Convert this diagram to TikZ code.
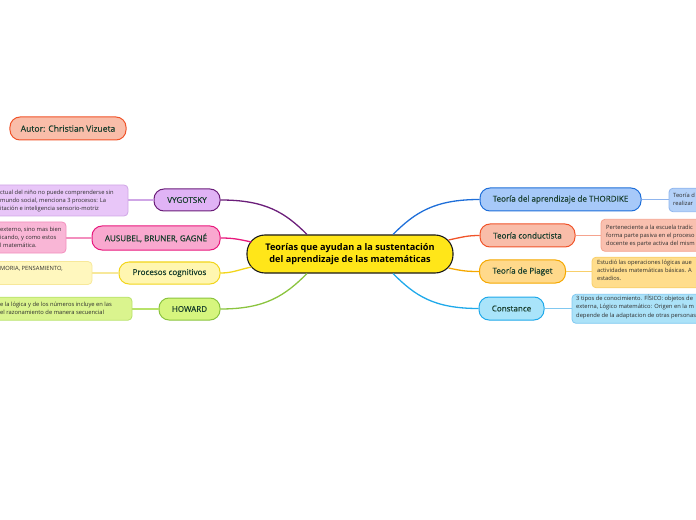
\documentclass[tikz,border=0pt]{standalone}
\usepackage{fontspec}
\setmainfont{Open Sans}
\newfontface\medfont{Open Sans}[FakeBold=0.4]
\usetikzlibrary{calc}
\definecolor{ntxt}{HTML}{173D2C}
\definecolor{dtx}{HTML}{2E2E2E}
\definecolor{cenF}{HTML}{FFE619}
\definecolor{cenD}{HTML}{1A1A1A}
\definecolor{purL}{HTML}{6B1E7A}\definecolor{purF}{HTML}{E0B3F5}\definecolor{purDF}{HTML}{E8C6F8}\definecolor{purDD}{HTML}{CFA6E6}
\definecolor{pinL}{HTML}{E8197D}\definecolor{pinF}{HTML}{F9A8CF}\definecolor{pinDF}{HTML}{F9B6D6}\definecolor{pinDD}{HTML}{F38FBE}
\definecolor{yelL}{HTML}{F2D51C}\definecolor{yelF}{HTML}{FFF6B0}\definecolor{yelDF}{HTML}{FFF7BE}\definecolor{yelDD}{HTML}{F7E89A}
\definecolor{grnL}{HTML}{8BC43F}\definecolor{grnF}{HTML}{D6F57E}\definecolor{grnDF}{HTML}{DAF48E}\definecolor{grnDD}{HTML}{B8E26A}
\definecolor{bluL}{HTML}{1F6FD9}\definecolor{bluF}{HTML}{A7C9F9}\definecolor{bluDF}{HTML}{B4D1F8}\definecolor{bluDD}{HTML}{8FB5EE}
\definecolor{redL}{HTML}{F0542A}\definecolor{redF}{HTML}{F9BDA9}\definecolor{redDF}{HTML}{F9C0AF}\definecolor{redDD}{HTML}{F5A38E}
\definecolor{oraL}{HTML}{F5A800}\definecolor{oraF}{HTML}{FFD98B}\definecolor{oraDF}{HTML}{FFDD8C}\definecolor{oraDD}{HTML}{F8CF6A}
\definecolor{cyaL}{HTML}{1FA9EA}\definecolor{cyaF}{HTML}{A9E4FA}\definecolor{cyaDF}{HTML}{ABE2F8}\definecolor{cyaDD}{HTML}{80C8F0}
\begin{document}
\begin{tikzpicture}[x=1bp,y=-1bp,
  br/.style={rounded corners=10bp, draw, line width=1bp, font=\medfont\fontsize{8.1}{9}\selectfont, text=ntxt, inner sep=0pt, anchor=center},
  det/.style={rounded corners=4bp, draw, line width=0.8bp, inner sep=0pt},
  dtxt/.style={font=\fontsize{5.8}{8.2}\selectfont, align=left, anchor=west, inner sep=0pt, text=dtx},
  con/.style={line width=1.3bp},
  dcon/.style={line width=1.2bp}]
\useasboundingbox (0,0) rectangle (696,520);
\clip (0,0) rectangle (696,520);

% author
\node[br, fill=redF, draw=redL, minimum width=116bp, minimum height=23bp, font=\medfont\fontsize{8.6}{9}\selectfont] (aut) at (68,128.5) {Autor: Christian Vizueta};

% central
\node[rounded corners=18bp, draw=cenD, fill=cenF, line width=1.1bp, minimum width=206bp, minimum height=38bp, inner sep=0pt, align=center, font=\fontsize{9.2}{12.6}\selectfont\bfseries] (cen) at (350,254) {Teorías que ayudan a la sustentación\\del aprendizaje de las matemáticas};

% left branches
\node[br, fill=purF, draw=purL, minimum width=66bp, minimum height=22bp] (vyg) at (187,200) {VYGOTSKY};
\node[br, fill=pinF, draw=pinL, minimum width=128bp, minimum height=24bp] (aus) at (156,238) {AUSUBEL, BRUNER, GAGNÉ};
\node[br, fill=yelF, draw=yelL, minimum width=101bp, minimum height=22bp] (pro) at (169.5,273) {Procesos cognitivos};
\node[br, fill=grnF, draw=grnL, minimum width=61bp, minimum height=22bp] (how) at (189.5,309) {HOWARD};

% right branches
\node[br, fill=bluF, draw=bluL, minimum width=161bp, minimum height=23bp] (tho) at (560.5,199.5) {Teoría del aprendizaje de THORDIKE};
\node[br, fill=redF, draw=redL, minimum width=95bp, minimum height=23bp] (con) at (527.5,235.5) {Teoría conductista};
\node[br, fill=oraF, draw=oraL, minimum width=86bp, minimum height=23bp] (pia) at (522.5,271.5) {Teoría de Piaget};
\node[br, fill=cyaF, draw=cyaL, minimum width=65bp, minimum height=23bp] (cst) at (511.5,308.5) {Constance};

% detail boxes (left)
\node[det, fill=purDF, draw=purDD, minimum width=160bp, minimum height=31bp] (vygd) at (48,200.5) {};
\node[det, fill=pinDF, draw=pinDD, minimum width=100bp, minimum height=31bp] (ausd) at (16,237.5) {};
\node[det, fill=yelDF, draw=yelDD, minimum width=120bp, minimum height=23bp] (prod) at (32,273) {};
\node[det, fill=grnDF, draw=grnDD, minimum width=160bp, minimum height=23bp] (howd) at (52,308.7) {};
% detail boxes (right)
\node[det, fill=bluDF, draw=bluDD, minimum width=80bp, minimum height=23.5bp] (thod) at (709,200) {};
\node[det, fill=redDF, draw=redDD, minimum width=140bp, minimum height=32bp] (cond) at (671,235.3) {};
\node[det, fill=oraDF, draw=oraDD, minimum width=150bp, minimum height=30.5bp] (piad) at (667,272.5) {};
\node[det, fill=cyaDF, draw=cyaDD, minimum width=170bp, minimum height=29bp] (cstd) at (657,308.8) {};

% detail texts
\node[dtxt] (vygt) at (0,201) {ctual del niño no puede comprenderse sin\\mundo social, menciona 3 procesos: La\\itación e inteligencia sensorio-motriz};
\node[dtxt] (aust) at (0,237.3) {externo, sino mas bien\\icando, y como estos\\l matemática.};
\node[dtxt] (prot) at (0,269.2) {MORIA, PENSAMIENTO,};
\node[dtxt] (howt) at (0,308.7) {e la lógica y de los números incluye en las\\el razonamiento de manera secuencial};
\node[dtxt] (thot) at (673,199.2) {Teoría d\\realizar};
\node[dtxt] (cont) at (606,236) {Perteneciente a la escuela tradic\\forma parte pasiva en el proceso\\docente es parte activa del mism};
\node[dtxt] (piat) at (597,270.2) {Estudió las operaciones lógicas aue\\actividades matemáticas básicas. A\\estadios.};
\node[dtxt] (cstt) at (576,307) {3 tipos de conocimiento. FÍSICO: objetos de\\externa, Lógico matemático: Origen en la m\\depende de la adaptacion de otras personas};

% detail connectors
\draw[dcon, draw=purDD] (vyg.west) -- (vyg.west -| vygd.east);
\draw[dcon, draw=pinDD] (aus.west) -- (aus.west -| ausd.east);
\draw[dcon, draw=yelDD] (pro.west) -- (pro.west -| prod.east);
\draw[dcon, draw=grnDD] (how.west) -- (how.west -| howd.east);
\draw[dcon, draw=bluDD] (tho.east) -- (tho.east -| thod.west);
\draw[dcon, draw=redDD] (con.east) -- (con.east -| cond.west);
\draw[dcon, draw=oraDD] (pia.east) -- (pia.east -| piad.west);
\draw[dcon, draw=cyaDD] (cst.east) -- (cst.east -| cstd.west);

% main connectors
\draw[con, draw=purL] ($(cen.north)+(-43,0)$) .. controls +(-22,-22) and +(45,0) .. (vyg.east);
\draw[con, draw=pinL] ($(cen.west)+(5,-12)$) .. controls +(-14,-3) and +(12,0) .. (aus.east);
\draw[con, draw=yelL] ($(cen.west)+(5,13)$) .. controls +(-14,3) and +(12,0) .. (pro.east);
\draw[con, draw=grnL] ($(cen.south)+(-43,0)$) .. controls +(-22,22) and +(45,0) .. (how.east);
\draw[con, draw=bluL] ($(cen.north)+(43,0)$) .. controls +(22,-22) and +(-45,0) .. (tho.west);
\draw[con, draw=redL] ($(cen.east)+(-5,-14)$) .. controls +(14,-3) and +(-12,0) .. (con.west);
\draw[con, draw=oraL] ($(cen.east)+(-5,14)$) .. controls +(14,3) and +(-12,0) .. (pia.west);
\draw[con, draw=cyaL] ($(cen.south)+(43,0)$) .. controls +(22,22) and +(-45,0) .. (cst.west);
\end{tikzpicture}
\end{document}
